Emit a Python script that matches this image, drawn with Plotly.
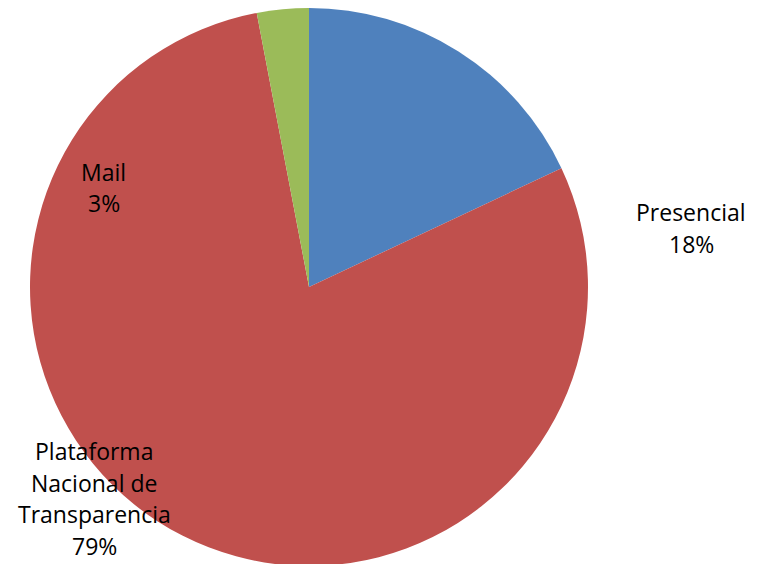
import plotly.graph_objects as go

labels = ["Presencial", "Plataforma Nacional de Transparencia", "Mail"]
values = [18, 79, 3]
colors = ["#4F81BD", "#C0504D", "#9BBB59"]

# label text lines and their positions (screen px from top-left)
label_lines = [
    ["Presencial", "18%"],
    ["Plataforma", "Nacional de", "Transparencia", "79%"],
    ["Mail", "3%"],
]
label_pos = [(691, 212), (94, 451), (104, 172)]
line_step = 31.5

W, H = 761, 564
OFF = 8  # page body margin

fig = go.Figure(go.Pie(
    labels=labels, values=values, sort=False, direction="clockwise", rotation=0,
    marker=dict(colors=colors, line=dict(width=0)),
    textinfo="none", hoverinfo="label+percent", showlegend=False,
    domain=dict(x=[22 / W, 580 / W], y=[6 / H, 1.0]),
))

annotations = []
for lines, (px, py) in zip(label_lines, label_pos):
    for i, t in enumerate(lines):
        y = py + i * line_step - OFF
        annotations.append(dict(
            x=(px - OFF) / W, y=1 - y / H, xref="paper", yref="paper",
            text=t, showarrow=False, xanchor="center", yanchor="middle",
            font=dict(family="Open Sans", size=23, color="#000000"),
        ))

fig.update_layout(
    width=W, height=H, margin=dict(l=0, r=0, t=0, b=0),
    paper_bgcolor="white", plot_bgcolor="white",
    annotations=annotations,
)

fig.write_html("out.html")
